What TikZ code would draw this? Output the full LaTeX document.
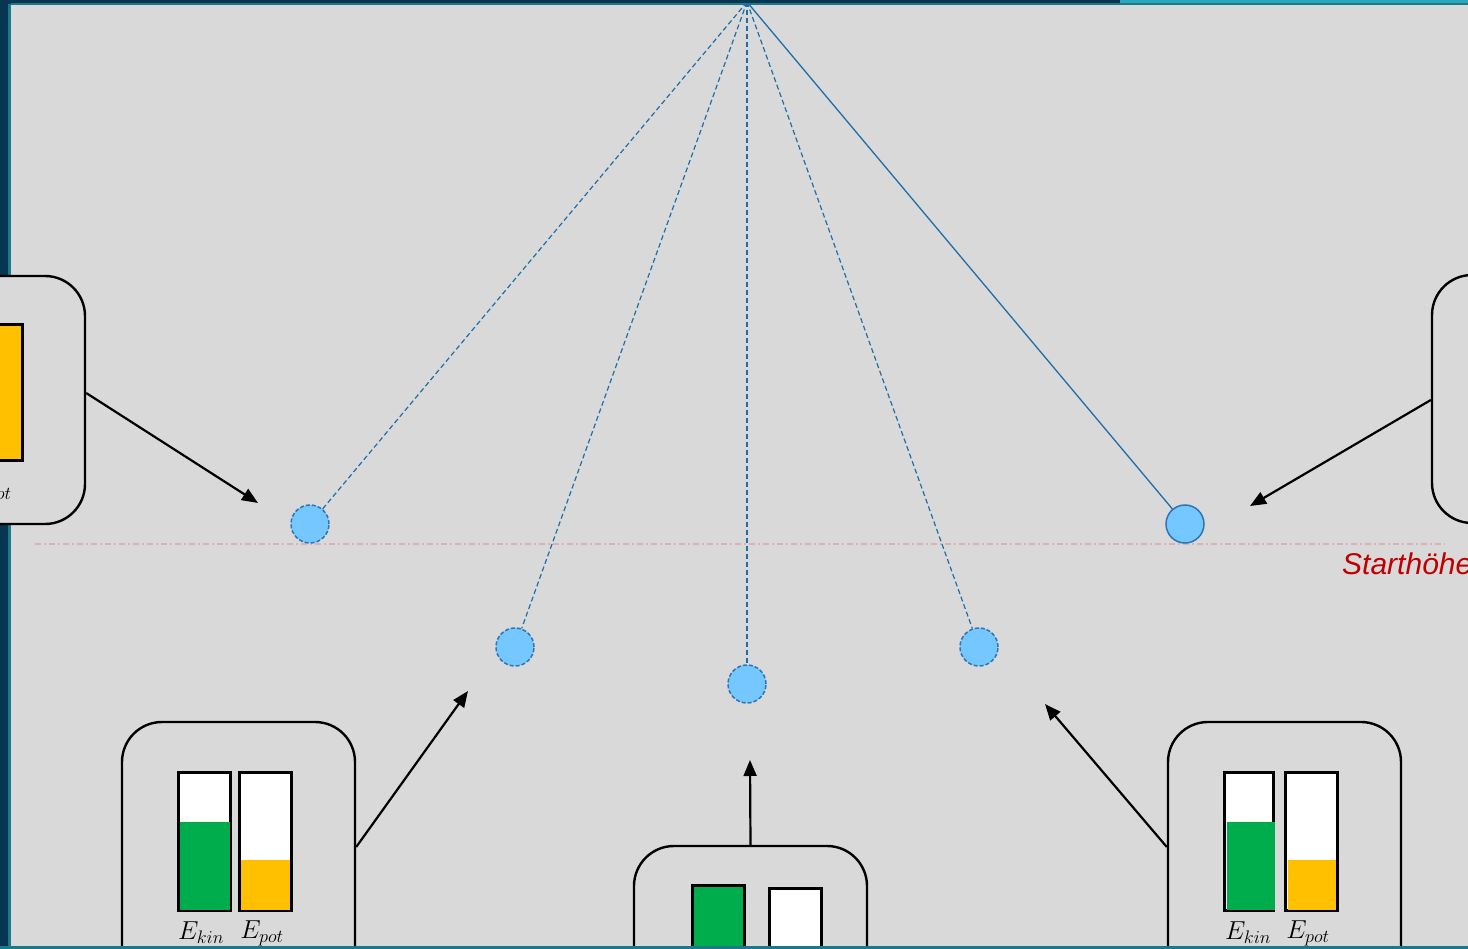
\RequirePackage{fix-cm}
\documentclass[tikz,border=0pt]{standalone}
\usepackage{fontspec}
\setsansfont{Liberation Sans}
\usetikzlibrary{arrows.meta}
\definecolor{navy}{HTML}{063651}
\definecolor{tealedge}{HTML}{1A7A8A}
\definecolor{tealtop}{HTML}{2BA7B8}
\definecolor{bggray}{HTML}{D9D9D9}
\definecolor{strblue}{HTML}{1F6EA8}
\definecolor{ballfill}{HTML}{75C8FF}
\definecolor{ballline}{HTML}{2E75B6}
\definecolor{ekgreen}{HTML}{00AD4D}
\definecolor{epyellow}{HTML}{FFC000}
\definecolor{redtxt}{HTML}{C00000}
\definecolor{startline}{HTML}{DDB0B4}
\tikzset{
  ghost/.style={circle,draw=ballline,fill=ballfill,dash pattern=on 4pt off 2pt,line width=1.5pt,minimum size=38pt,inner sep=0pt},
  realball/.style={circle,draw=ballline,fill=ballfill,line width=1.5pt,minimum size=38pt,inner sep=0pt},
  ghoststring/.style={draw=strblue,dash pattern=on 5pt off 3pt,line width=1.2pt},
  realstring/.style={draw=strblue,line width=1.3pt},
  infobox/.style={draw=black,line width=2.4pt,rounded corners=40pt,inner sep=0pt,fill=bggray},
  pointer/.style={draw=black,line width=2.2pt,-{Triangle[length=16pt,width=13pt]}},
  barframe/.style={draw=black,line width=3pt,fill=white},
  elabel/.style={font=\fontsize{26}{30}\selectfont,inner sep=0pt},
}
\begin{document}
\begin{tikzpicture}[x=1pt,y=-1pt]
\useasboundingbox (0,0) rectangle (1468,949);
% frame
\fill[navy] (0,0) rectangle (1468,949);
\fill[tealtop] (1120,0) rectangle (1468,4);
\fill[tealedge] (8,4) rectangle (11,949);
\fill[tealedge] (11,3) rectangle (1468,5);
\fill[bggray] (11,5) rectangle (1468,946);
\begin{scope}
\clip (0,5) rectangle (1468,946);
% start height line
\draw[startline,line width=1.2pt,dash pattern=on 6pt off 3pt on 2pt off 3pt] (35,544) -- (1445,544);
\node[anchor=base west,inner sep=0pt,text=redtxt,font=\sffamily\itshape\fontsize{30}{34}\selectfont] (start) at (1342,574) {Starthöhe};
% pendulum
\coordinate (pivot) at (747,2);
\node[ghost] (b1) at (310,524) {};
\node[ghost] (b2) at (515,647) {};
\node[ghost] (b3) at (747,684) {};
\node[ghost] (b4) at (979,647) {};
\node[realball] (b5) at (1185,524) {};
\draw[ghoststring] (pivot) -- (b1);
\draw[ghoststring] (pivot) -- (b2);
\draw[ghoststring] (pivot) -- (b3);
\draw[ghoststring] (pivot) -- (b4);
\draw[realstring] (pivot) -- (b5);
% boxes
\node[infobox,minimum width=245pt,minimum height=248pt] (boxL) at (-37.5,400) {};
\node[infobox,minimum width=248pt,minimum height=248pt] (boxR) at (1556,399) {};
\node[infobox,minimum width=233pt,minimum height=268pt] (boxBL) at (238.5,856) {};
\node[infobox,minimum width=233pt,minimum height=268pt] (boxBM) at (750.5,980) {};
\node[infobox,minimum width=233pt,minimum height=268pt] (boxBR) at (1284.5,856) {};
% left box bars
\draw[barframe] (-91,325) rectangle (-39,461);
\draw[barframe,fill=epyellow] (-30,325) rectangle (22,461);
\node[elabel] (lk) at (-70,490) {$E_{kin}$};
\node[elabel] (lp) at (-10,490) {$E_{pot}$};
% bottom-left bars
\draw[barframe] (178,772) rectangle (230,910);
\fill[ekgreen] (180,822) rectangle (230,910);
\draw[barframe] (239,772) rectangle (291,910);
\fill[epyellow] (241,860) rectangle (290,910);
\node[elabel] (blk) at (201,933) {$E_{kin}$};
\node[elabel] (blp) at (262,933) {$E_{pot}$};
% bottom-middle bars
\draw[barframe,fill=ekgreen] (692,885) rectangle (744,1030);
\draw[barframe] (769,888) rectangle (821,1030);
% bottom-right bars
\draw[barframe] (1224,772) rectangle (1273,910);
\fill[ekgreen] (1227,822) rectangle (1275,910);
\draw[barframe] (1285,772) rectangle (1337,910);
\fill[epyellow] (1288,860) rectangle (1336,910);
\node[elabel] (brk) at (1248,933) {$E_{kin}$};
\node[elabel] (brp) at (1308,933) {$E_{pot}$};
% pointers
\coordinate (pL) at (258,503);
\coordinate (pR) at (1250,506);
\coordinate (pBL) at (468,691);
\coordinate (pBM) at (750,760);
\coordinate (pBR) at (1045,704);
\draw[pointer] (boxL.east |- 0,393) -- (pL);
\draw[pointer] (boxR.west |- 0,400) -- (pR);
\draw[pointer] (boxBL.east |- 0,847) -- (pBL);
\draw[pointer] (boxBM.north) -- (pBM);
\draw[pointer] (boxBR.west |- 0,847) -- (pBR);
\end{scope}
\fill[tealedge] (0,946) rectangle (1468,949);
\end{tikzpicture}
\end{document}
